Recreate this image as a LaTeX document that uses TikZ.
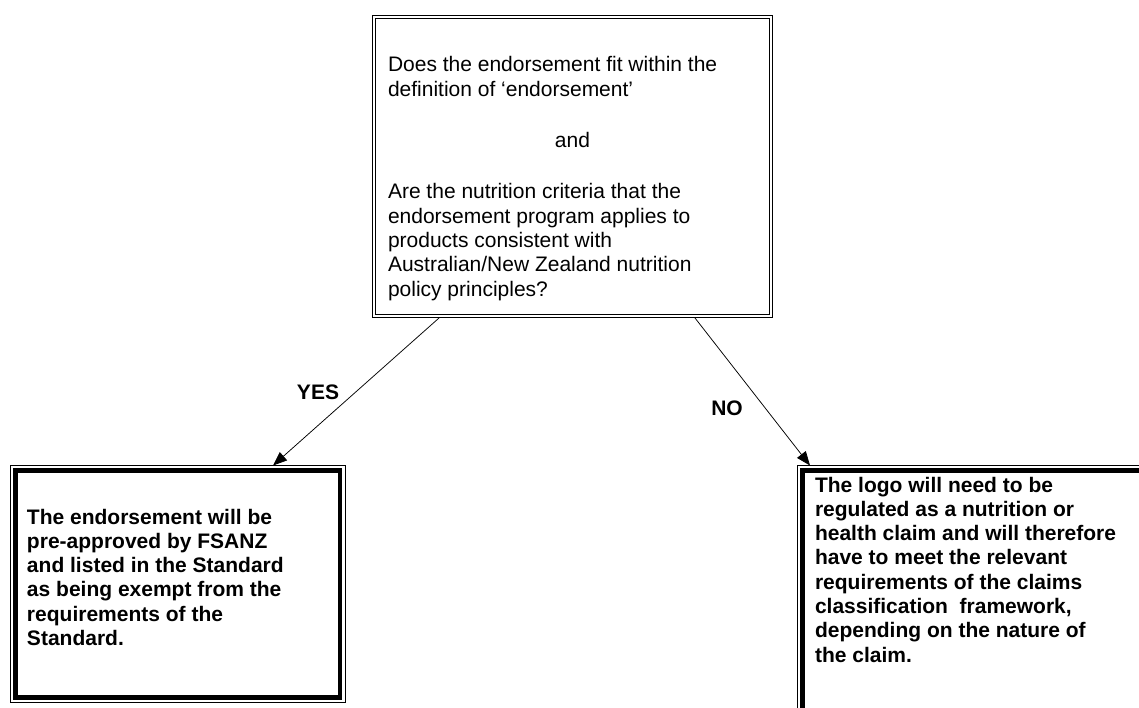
\documentclass[tikz,border=0pt]{standalone}
\usepackage{fontspec}
\setmainfont{Liberation Sans}
\usetikzlibrary{arrows.meta,calc}

\begin{document}
\begin{tikzpicture}[x=1pt,y=-1pt,
  qframe/.style={draw, line width=0.8pt, double=white, double distance=2.2pt,
                 inner sep=0pt, outer sep=0pt},
  aframe/.style={draw, line width=0.9pt, inner sep=0pt, outer sep=0pt},
  thickrule/.style={line width=4.5pt},
  txt/.style={anchor=base west, inner sep=0pt, outer sep=0pt,
              font=\fontsize{21}{24.3}\selectfont},
  btxt/.style={txt, font=\fontsize{21}{24.3}\selectfont\bfseries},
  lbl/.style={inner sep=0pt, font=\fontsize{21}{24.3}\selectfont\bfseries},
  conn/.style={line width=0.75pt, -{Triangle[length=14pt,width=11pt]}}
]
\clip (0,0) rectangle (1139,708);
\fill[white] (0,0) rectangle (1139,708);

% question box (double border)
\node[qframe, minimum width=397pt, minimum height=299pt] (q) at (572.5,166.5) {};
\node[txt] (qt) at (388,72) {\begin{minipage}[t]{369pt}\raggedright
Does the endorsement fit within the\\
definition of ‘endorsement’\par
\vspace{27.4pt}
{\centering and\par}
\vspace{26.7pt}
Are the nutrition criteria that the\\
endorsement program applies to\\
products consistent with\\
Australian/New Zealand nutrition\\
policy principles?
\end{minipage}};

% outcome box on the left (thin-thick border)
\node[aframe, minimum width=334.5pt, minimum height=237pt] (yesbox) at (177.75,584) {};
\draw[thickrule] ($(yesbox.north west)+(5,5)$) rectangle ($(yesbox.south east)+(-5,-5)$);
\node[btxt] (yt) at (27,524) {\begin{minipage}[t]{300pt}\raggedright
The endorsement will be\\
pre-approved by FSANZ\\
and listed in the Standard\\
as being exempt from the\\
requirements of the\\
Standard.
\end{minipage}};

% outcome box on the right (runs past the page edge)
\node[aframe, minimum width=362.5pt, minimum height=264.5pt] (nobox) at (978.75,597.75) {};
\draw[thickrule] ($(nobox.north west)+(5,5)$) rectangle ($(nobox.south east)+(-5,-5)$);
\node[btxt] (nt) at (815,492) {\begin{minipage}[t]{320pt}\raggedright
The logo will need to be\\
regulated as a nutrition or\\
health claim and will therefore\\
have to meet the relevant\\
requirements of the claims\\
classification\ \ framework,\\
depending on the nature of\\
the claim.
\end{minipage}};

% connectors
\coordinate (yesfrom) at ($(q.south west)+(65,2)$);
\coordinate (yesto) at ($(yesbox.north west)+(262.5,0)$);
\coordinate (nofrom) at ($(q.south west)+(321,2)$);
\coordinate (noto) at ($(nobox.north west)+(12.5,0)$);
\draw[conn] (yesfrom) -- (yesto);
\draw[conn] (nofrom) -- (noto);

\node[lbl] (yes) at (318,392) {YES};
\node[lbl] (no) at (727,408) {NO};
\end{tikzpicture}
\end{document}
